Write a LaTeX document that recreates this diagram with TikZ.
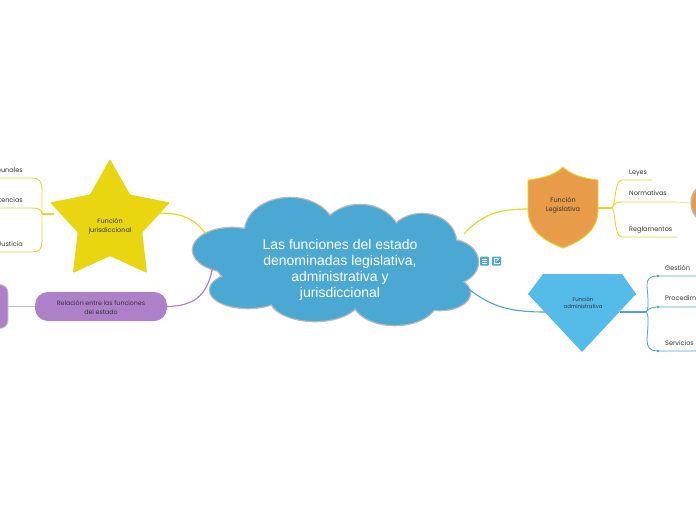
\documentclass[tikz,border=0pt]{standalone}
\usepackage{fontspec}
\setmainfont{Liberation Sans}
\newfontfamily\labelfont{Poppins}
\newfontfamily\centralfont{Liberation Sans}
\definecolor{cloudblue}{HTML}{4BA8D2}
\definecolor{staryellow}{HTML}{E9D611}
\definecolor{lineyellow}{HTML}{EAD62A}
\definecolor{shieldorange}{HTML}{E89B48}
\definecolor{gemblue}{HTML}{55BCEA}
\definecolor{linkblue}{HTML}{4AA3D3}
\definecolor{relpurple}{HTML}{AE80C9}
\definecolor{linkpurple}{HTML}{A878CC}
\definecolor{lightpurple}{HTML}{CDB0E0}
\definecolor{labeltext}{HTML}{333333}
\tikzset{
  smalltext/.style={font=\labelfont\fontsize{6.5}{9}\selectfont, text=labeltext, inner sep=0pt},
  leaf/.style={smalltext, anchor=west},
  leafleft/.style={smalltext, anchor=east},
  ylink/.style={draw=lineyellow, line width=1.2pt},
  blink/.style={draw=linkblue, line width=1.1pt},
  plink/.style={draw=linkpurple, line width=1.1pt},
  cloudborder/.style={draw=gray!55, line width=2.6pt},
  cloudfill/.style={fill=cloudblue},
}
\begin{document}
\begin{tikzpicture}[x=1pt,y=-1pt]
\useasboundingbox (0,0) rectangle (696,520);
\clip (0,0) rectangle (696,520);
\fill[white] (0,0) rectangle (696,520);

% ---------- cloud ----------
\foreach \cx/\cy/\a/\b in {335/262/120/40, 290/232/45/34, 360/238/40/33, 422/242/34/28, 450/262/28/22, 440/293/30/17, 395/300/42/25, 315/298/45/23, 248/290/38/18, 232/250/39/22}
  \path[cloudborder] (\cx,\cy) ellipse [x radius=\a pt, y radius=\b pt];
\foreach \cx/\cy/\a/\b in {335/262/120/40, 290/232/45/34, 360/238/40/33, 422/242/34/28, 450/262/28/22, 440/293/30/17, 395/300/42/25, 315/298/45/23, 248/290/38/18, 232/250/39/22}
  \path[cloudfill] (\cx,\cy) ellipse [x radius=\a pt, y radius=\b pt];
\node[align=center, text=white, font=\centralfont\fontsize{14}{16}\selectfont, inner sep=0pt] (central) at (340,270)
  {Las funciones del estado\\denominadas legislativa,\\administrativa y\\jurisdiccional};
\coordinate (cloudL) at (206,234);
\coordinate (cloudLB) at (213,266);
\coordinate (cloudR) at (464,234);
\coordinate (cloudRB) at (467,288);

% icons
\node[fill=cloudblue, rounded corners=1pt, minimum size=9pt, inner sep=0pt] (icon1) at (484.5,261) {};
\node[fill=cloudblue, rounded corners=1pt, minimum size=9pt, inner sep=0pt] (icon2) at (496.5,261) {};
\foreach \dy in {-2,0,2} \draw[white, line width=0.6pt] ([xshift=-2.5pt,yshift=\dy pt]icon1.center) -- ([xshift=2.5pt,yshift=\dy pt]icon1.center);
\draw[white, line width=0.6pt] ([xshift=1pt,yshift=2.5pt]icon2.center) -- ([xshift=-2.5pt,yshift=2.5pt]icon2.center) -- ([xshift=-2.5pt,yshift=-2.5pt]icon2.center) -- ([xshift=2.5pt,yshift=-2.5pt]icon2.center) -- ([xshift=2.5pt,yshift=-0.5pt]icon2.center);
\draw[white, line width=0.6pt] ([xshift=-0.5pt,yshift=-0.5pt]icon2.center) -- ([xshift=3pt,yshift=3pt]icon2.center);

% ---------- star (Funcion jurisdiccional) ----------
\fill[staryellow, rounded corners=1pt] (110,159) -- (130,194.5) -- (169.9,202.5) -- (142.3,232.5) -- (147,273) -- (110,256) -- (73,273) -- (77.7,232.5) -- (50.1,202.5) -- (90,194.5) -- cycle;
\node[smalltext, align=center] (jur) at (110,226) {Función\\jurisdiccional};
\coordinate (starR) at (158,213);
\coordinate (starL) at (54,214);
\coordinate (jJ) at (42,214);
\coordinate (l1) at (0,178);
\coordinate (l2) at (0,208);
\coordinate (l3) at (0,252);
\draw[ylink] (cloudL) .. controls (195,220) and (185,213) .. (starR);
\draw[ylink] (starL) -- (jJ);
\draw[ylink, line width=0.9pt] (jJ) -- (42,190) .. controls (42,181) and (39,178) .. (32,178) -- (l1);
\draw[ylink, line width=0.9pt] (jJ) .. controls (42,210) and (39,208) .. (32,208) -- (l2);
\draw[ylink, line width=0.9pt] (jJ) -- (42,242) .. controls (42,249) and (39,252) .. (32,252) -- (l3);
\node[leafleft] (trib) at (23,170) {Tribunales};
\node[leafleft] (sent) at (23,200) {Sentencias};
\node[leafleft] (just) at (23,244) {Justicia};

% ---------- purple relation node ----------
\node[fill=relpurple, rounded corners=13pt, minimum width=132pt, minimum height=29pt, inner sep=0pt] (rel) at (101,306.5) {};
\node[smalltext, align=center, font=\labelfont\fontsize{6.3}{9}\selectfont] (reltext) at (101,308) {Relación entre las funciones\\del estado};
\draw[plink] (cloudLB) .. controls (208,292) and (198,306) .. (rel.east);
\node[fill=relpurple, draw=gray!40, line width=0.8pt, rounded corners=8pt, minimum width=60pt, minimum height=44pt, inner sep=0pt] (relleft) at (-22,306.5) {};
\draw[draw=lightpurple, line width=1.3pt] (rel.west) -- (relleft.east);

% ---------- shield (Funcion Legislativa) ----------
\fill[shieldorange, draw=lineyellow, line width=0.9pt] (528,180) .. controls (545,178) and (556,174) .. (563,167) .. controls (570,174) and (581,178) .. (598,180) -- (598,210) .. controls (598,230) and (582,241) .. (563,248) .. controls (544,241) and (528,230) .. (528,210) -- cycle;
\node[smalltext, align=center] (leg) at (563,205) {Función\\Legislativa};
\coordinate (shL) at (528,209);
\coordinate (shR) at (598,208);
\coordinate (jL) at (612,208);
\coordinate (r1) at (652,180);
\coordinate (r2) at (676,202);
\coordinate (r3) at (677,237);
\draw[ylink] (cloudR) .. controls (482,214) and (500,209) .. (shL);
\draw[ylink] (shR) -- (jL);
\draw[ylink, line width=0.9pt] (jL) .. controls (616,206) and (614,180) .. (622,180) -- (r1);
\draw[ylink, line width=0.9pt] (jL) .. controls (614,203) and (616,202) .. (622,202) -- (r2);
\draw[ylink, line width=0.9pt] (jL) .. controls (616,212) and (614,237) .. (622,237) -- (r3);
\node[draw=gray!55, line width=1.5pt, fill=shieldorange, circle, minimum size=42pt, inner sep=0pt] (orcirc) at (712,203) {};
\draw[draw=lineyellow!50, line width=0.9pt] (r2) -- (orcirc.west);
\node[leaf] (leyes) at (629,173) {Leyes};
\node[leaf] (norm) at (629,193) {Normativas};
\node[leaf] (regl) at (629,230) {Reglamentos};

% ---------- gem (Funcion administrativa) ----------
\fill[gemblue] (543,274) -- (622,274) -- (636,294) -- (582,352) -- (528,294) -- cycle;
\node[smalltext, align=center, font=\labelfont\fontsize{5.3}{7}\selectfont] (adm) at (583,302.5) {Función\\administrativa};
\coordinate (gemL) at (545,312);
\coordinate (gemR) at (620,312);
\coordinate (jA) at (646,312);
\coordinate (b1) at (696,276);
\coordinate (b2) at (696,307);
\coordinate (b3) at (696,351);
\draw[blink] (cloudRB) .. controls (490,305) and (505,312) .. (gemL);
\draw[blink] (gemR) -- (jA);
\draw[blink, line width=0.8pt] (jA) .. controls (650,310) and (647,290) .. (647,285) .. controls (647,279) and (650,276) .. (657,276) -- (b1);
\draw[blink, line width=0.8pt] (jA) .. controls (649,309) and (651,307) .. (657,307) -- (b2);
\draw[blink, line width=0.8pt] (jA) .. controls (650,314) and (647,334) .. (647,340) .. controls (647,347) and (650,351) .. (657,351) -- (b3);
\foreach \yy in {276,307,351} \fill[linkblue] (658,\yy) circle (1.4pt);
\node[leaf] (gest) at (665,268) {Gestión};
\node[leaf] (proc) at (665,298) {Procedimientos};
\node[leaf] (serv) at (665,343) {Servicios};
\end{tikzpicture}
\end{document}
